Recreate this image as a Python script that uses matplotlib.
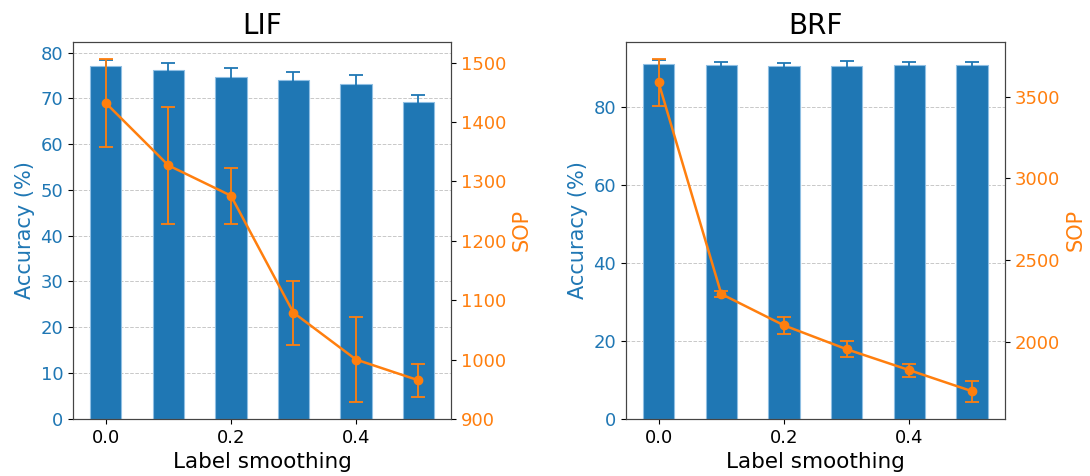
import numpy as np
import matplotlib
matplotlib.use("Agg")
import matplotlib.pyplot as plt

smoothing = [0.0, 0.1, 0.2, 0.3, 0.4, 0.5]

# LIF
lif_acc = [77.1, 76.2, 74.7, 74.0, 73.1, 69.1]
lif_acc_err = [1.3, 1.5, 1.9, 1.8, 1.9, 1.7]
lif_sop = [1432, 1327, 1276, 1079, 1000, 965]
lif_sop_err = [74, 98, 47, 54, 72, 28]

# BRF
brf_acc = [91.0, 90.8, 90.6, 90.6, 90.8, 90.7]
brf_acc_err = [1.1, 0.7, 0.6, 1.1, 0.7, 0.9]
brf_sop = [3587, 2293, 2101, 1955, 1827, 1698]
brf_sop_err = [143, 16, 50, 50, 39, 65]

panels = [
    ("LIF", lif_acc, lif_acc_err, lif_sop, lif_sop_err, 10, (900, 1535)),
    ("BRF", brf_acc, brf_acc_err, brf_sop, brf_sop_err, 20, (1529, 3835)),
]

BLUE = "tab:blue"
ORANGE = "tab:orange"
SPINE = "#444444"

fig = plt.figure(figsize=(10.9, 4.76), dpi=100)
boxes = [[0.067, 0.12, 0.347, 0.792], [0.574, 0.12, 0.348, 0.792]]

for box, (title, acc, acc_err, sop, sop_err, step, sop_lim) in zip(boxes, panels):
    ax = fig.add_axes(box)
    ax.set_axisbelow(True)
    ax.bar(smoothing, acc, width=0.05, color=BLUE, edgecolor="#8fbfe3", linewidth=0.8,
           yerr=acc_err, ecolor=BLUE, capsize=5, error_kw=dict(elinewidth=1.3, capthick=1.3))
    ax.yaxis.set_major_locator(matplotlib.ticker.MultipleLocator(step))
    ax.grid(axis="y", linestyle="--", color="#c8c8c8", linewidth=0.7)
    ax.set_ylabel("Accuracy (%)", color=BLUE, fontsize=15)
    ax.set_xlabel("Label smoothing", fontsize=15.5)
    ax.set_title(title, fontsize=20)
    ax.tick_params(axis="y", labelcolor=BLUE, labelsize=13)
    ax.tick_params(axis="x", labelsize=13)
    ax.set_xticks([0.0, 0.2, 0.4])

    ax2 = ax.twinx()
    ax2.errorbar(smoothing, sop, yerr=sop_err, color=ORANGE, marker="o", markersize=6,
                 linewidth=1.8, capsize=5, elinewidth=1.3, capthick=1.3)
    ax2.set_ylim(*sop_lim)
    ax2.set_ylabel("SOP", color=ORANGE, fontsize=15)
    ax2.tick_params(axis="y", labelcolor=ORANGE, labelsize=13)

    for a in (ax, ax2):
        for s in a.spines.values():
            s.set_color(SPINE)

fig.savefig("out.png", dpi=100)
